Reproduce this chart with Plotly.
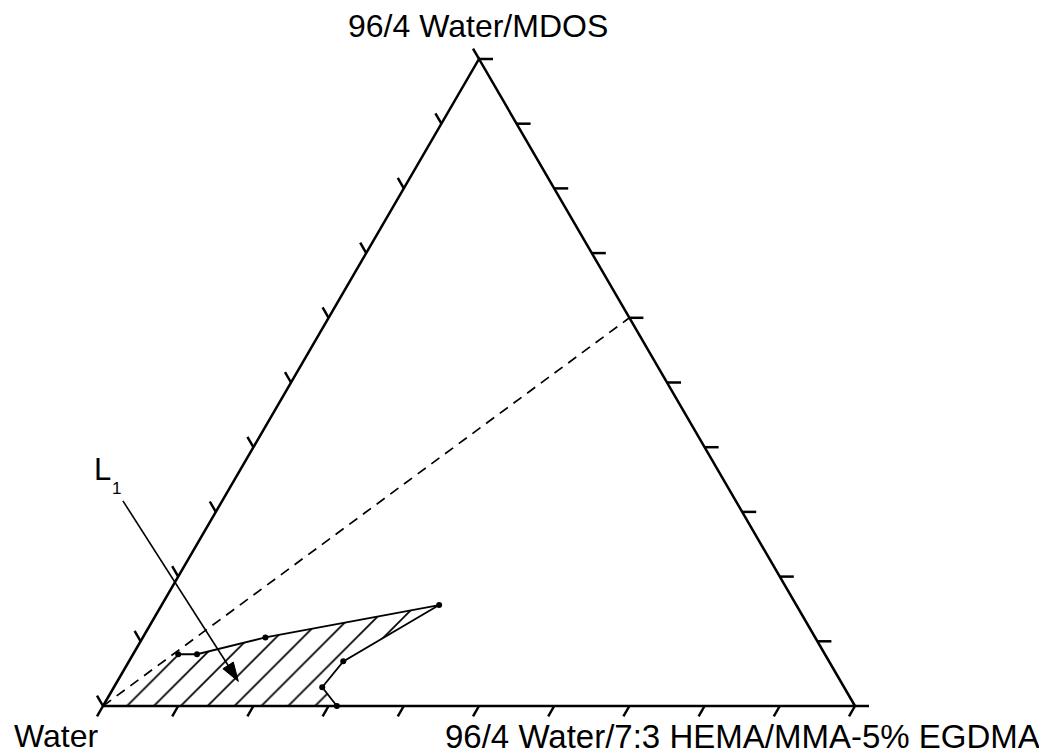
import math
import plotly.graph_objects as go

# ---------------- data (ternary fractions: water, mdos, hema) ----------------
vertex_names = ["Water", "96/4 Water/MDOS", "96/4 Water/7:3 HEMA/MMA-5% EGDMA"]
tick_fracs = [0.0, 0.1, 0.2, 0.3, 0.4, 0.5, 0.6, 0.7, 0.8, 0.9, 1.0]

# phase boundary points
bnd_water = [0.860, 0.835, 0.731, 0.475, 0.646, 0.694, 0.689]
bnd_mdos = [0.080, 0.080, 0.106, 0.156, 0.069, 0.029, 0.000]
bnd_hema = [0.060, 0.085, 0.163, 0.369, 0.285, 0.277, 0.311]

# dashed dilution line: water corner -> 60/40 MDOS/HEMA
dil_water = [1.0, 0.0]
dil_mdos = [0.0, 0.6]
dil_hema = [0.0, 0.4]

# L1 arrow (tail, head)
arrow_water = [0.815, 0.801]
arrow_mdos = [0.317, 0.038]
arrow_hema = [-0.132, 0.161]

# ---------------- geometry helpers ----------------
SQ = math.sqrt(3) / 2
PX_X = 752.0   # pixels per unit x
PX_Y = 747.1   # pixels per unit y
X0_PX, Y0_PX = 103.0, 706.0
W, H = 1039, 756


def tern(w, m, h):
    return h + m / 2.0, m * SQ


def tern_list(ws, ms, hs):
    xs, ys = [], []
    for w, m, h in zip(ws, ms, hs):
        x, y = tern(w, m, h)
        xs.append(x)
        ys.append(y)
    return xs, ys


def px(x_px, y_px):
    return (x_px / PX_X, -y_px / PX_Y)


fig = go.Figure()
BLACK = "black"

# hatched region
hx, hy = tern_list([1.0] + bnd_water, [0.0] + bnd_mdos, [0.0] + bnd_hema)
fig.add_trace(go.Scatter(x=hx, y=hy, mode="lines", fill="toself",
                         line=dict(width=0, color="rgba(0,0,0,0)"),
                         fillcolor="rgba(0,0,0,0)",
                         fillpattern=dict(shape="/", size=19, solidity=0.09,
                                          fgcolor=BLACK, fgopacity=1,
                                          bgcolor="rgba(0,0,0,0)"),
                         hoverinfo="skip"))

# triangle
tri_x, tri_y = tern_list([1, 0, 0, 1], [0, 1, 0, 0], [0, 0, 1, 0])
fig.add_trace(go.Scatter(x=tri_x, y=tri_y, mode="lines",
                         line=dict(color=BLACK, width=2.5), hoverinfo="skip"))

# ticks
tick_x, tick_y = [], []
left_d = px(-6, -10.4)
bottom_d = px(-6, 10.4)
right_d = px(14, 0)
for f in tick_fracs:
    # left edge (water -> mdos)
    x, y = tern(1 - f, f, 0)
    tick_x += [x, x + left_d[0], None]
    tick_y += [y, y + left_d[1], None]
    # right edge (mdos -> hema)
    x, y = tern(0, 1 - f, f)
    tick_x += [x, x + right_d[0], None]
    tick_y += [y, y + right_d[1], None]
    # bottom edge (water -> hema)
    x, y = tern(1 - f, 0, f)
    tick_x += [x, x + bottom_d[0], None]
    tick_y += [y, y + bottom_d[1], None]
fig.add_trace(go.Scatter(x=tick_x, y=tick_y, mode="lines",
                         line=dict(color=BLACK, width=2.5), hoverinfo="skip"))

# dashed line
dx, dy = tern_list(dil_water, dil_mdos, dil_hema)
fig.add_trace(go.Scatter(x=dx, y=dy, mode="lines",
                         line=dict(color=BLACK, width=1.7, dash="10px,7px"),
                         hoverinfo="skip"))

# boundary polyline
bx, by = tern_list(bnd_water, bnd_mdos, bnd_hema)
fig.add_trace(go.Scatter(x=bx, y=by, mode="lines+markers",
                         line=dict(color=BLACK, width=1.8),
                         marker=dict(color=BLACK, size=6), hoverinfo="skip"))

# arrow
ax_, ay_ = tern_list(arrow_water, arrow_mdos, arrow_hema)
fig.add_trace(go.Scatter(x=ax_, y=ay_, mode="lines+markers",
                         line=dict(color=BLACK, width=1.6),
                         marker=dict(color=BLACK, size=[0, 20], symbol="arrow",
                                     angleref="previous", opacity=1,
                                     line=dict(color=BLACK, width=1)),
                         hoverinfo="skip"))

FONT = "Liberation Sans, Arial, sans-serif"


def label(text, cx_px, cy_px, size):
    fig.add_annotation(x=cx_px / W, y=1 - cy_px / H, xref="paper", yref="paper",
                       text=text, showarrow=False, xanchor="center", yanchor="middle",
                       font=dict(family=FONT, size=size, color=BLACK))


label(vertex_names[1], 478, 26, 32)
label(vertex_names[0], 56, 736, 32)
label(vertex_names[2], 742, 736, 33)
label("L", 102, 469, 31)
label("1", 116, 488, 17)

fig.update_layout(
    width=W, height=H, margin=dict(l=0, r=0, t=0, b=0),
    paper_bgcolor="white", plot_bgcolor="white", showlegend=False,
    xaxis=dict(range=[-X0_PX / PX_X, (W - X0_PX) / PX_X], visible=False, fixedrange=True),
    yaxis=dict(range=[-(H - Y0_PX) / PX_Y, Y0_PX / PX_Y], visible=False, fixedrange=True),
)

fig.write_html("out.html")
